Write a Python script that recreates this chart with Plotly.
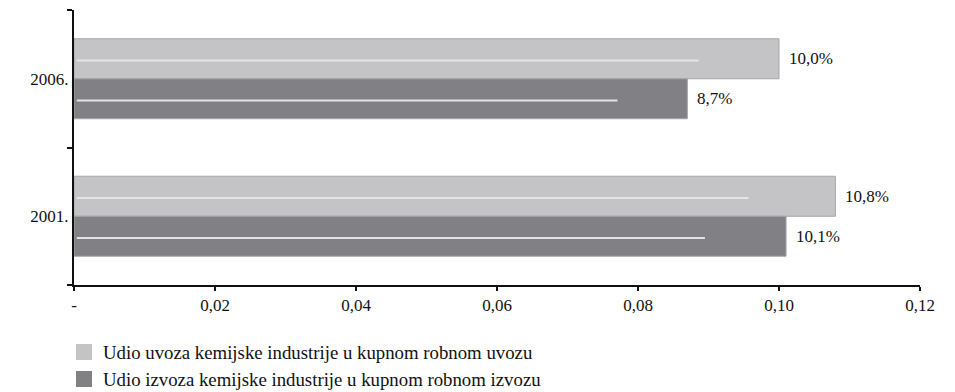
import plotly.graph_objects as go

# Data
years = ["2001.", "2006."]
uvoz = [0.108, 0.100]      # share of chemical industry in total goods import
izvoz = [0.101, 0.087]     # share of chemical industry in total goods export
uvoz_labels = ["10,8%", "10,0%"]
izvoz_labels = ["10,1%", "8,7%"]
series_names = [
    "Udio uvoza kemijske industrije u kupnom robnom uvozu",
    "Udio izvoza kemijske industrije u kupnom robnom izvozu",
]
x_ticks = [0, 0.02, 0.04, 0.06, 0.08, 0.10, 0.12]
x_ticktext = ["-", "0,02", "0,04", "0,06", "0,08", "0,10", "0,12"]

FONT = "Liberation Serif, Tinos, Times New Roman, DejaVu Serif, serif"
FS = 17
FS_LEG = 18.8
C_UVOZ = "#c4c4c6"
C_IZVOZ = "#818085"
C_EDGE = "#a6a6a8"
C_SHINE = "#e4e4e6"
BAR_W = 0.291
SHINE_FRAC = 0.886

fig = go.Figure()

fig.add_trace(go.Bar(
    y=years, x=uvoz, orientation="h", name=series_names[0],
    width=BAR_W, offset=0,
    marker=dict(color=C_UVOZ, line=dict(color=C_EDGE, width=1)),
    showlegend=False, hoverinfo="x+y",
))
fig.add_trace(go.Bar(
    y=years, x=izvoz, orientation="h", name=series_names[1],
    width=BAR_W, offset=-BAR_W,
    marker=dict(color=C_IZVOZ, line=dict(color=C_EDGE, width=1)),
    showlegend=False, hoverinfo="x+y",
))

shapes = []
annotations = []
for i, (vu, vi) in enumerate(zip(uvoz, izvoz)):
    yu = i + BAR_W / 2 - 0.012
    yi = i - BAR_W / 2 - 0.012
    # glossy highlight stripe inside each bar
    for v, yc in ((vu, yu), (vi, yi)):
        shapes.append(dict(type="line", xref="x", yref="y",
                           x0=0.0004, x1=v * SHINE_FRAC, y0=yc, y1=yc,
                           line=dict(color=C_SHINE, width=2), layer="above"))
    annotations.append(dict(x=vu, y=i + BAR_W / 2, xref="x", yref="y",
                            text=uvoz_labels[i], showarrow=False,
                            xanchor="left", xshift=8,
                            font=dict(family=FONT, size=FS, color="#111")))
    annotations.append(dict(x=vi, y=i - BAR_W / 2, xref="x", yref="y",
                            text=izvoz_labels[i], showarrow=False,
                            xanchor="left", xshift=8,
                            font=dict(family=FONT, size=FS, color="#111")))

# hand-drawn legend below the plot
legend_rows = [(series_names[0], C_UVOZ, 352), (series_names[1], C_IZVOZ, 379)]
for name, col, yc in legend_rows:
    shapes.append(dict(type="rect", xref="paper", yref="paper",
                       x0=(76 - 74) / 846, x1=(92 - 74) / 846,
                       y0=(285 - (yc + 8)) / 275, y1=(285 - (yc - 8)) / 275,
                       fillcolor=col, line=dict(width=0)))
    annotations.append(dict(x=(101 - 74) / 846, y=(285 - yc) / 275,
                            xref="paper", yref="paper", text=name,
                            showarrow=False, xanchor="left", yanchor="middle",
                            font=dict(family=FONT, size=FS_LEG, color="#111")))

fig.update_layout(
    width=955, height=392,
    margin=dict(l=74, r=35, t=10, b=107),
    paper_bgcolor="white", plot_bgcolor="white",
    barmode="overlay",
    font=dict(family=FONT, size=FS, color="#111"),
    shapes=shapes, annotations=annotations,
    showlegend=False,
)
fig.update_xaxes(
    range=[0, 0.12], tickvals=x_ticks, ticktext=x_ticktext,
    showline=True, linecolor="#111", linewidth=1.5,
    ticks="outside", ticklen=4, tickwidth=1.5, tickcolor="#111",
    showgrid=False, zeroline=False,
    tickfont=dict(family=FONT, size=FS, color="#111"),
)
fig.update_yaxes(
    type="category", categoryorder="array", categoryarray=years,
    range=[-0.5, 1.5],
    showline=True, linecolor="#111", linewidth=2,
    ticks="outside", tickson="boundaries", ticklen=5, tickwidth=1.5,
    tickcolor="#111", showgrid=False, zeroline=False,
    tickfont=dict(family=FONT, size=FS, color="#111"),
)

fig.write_html("out.html")
